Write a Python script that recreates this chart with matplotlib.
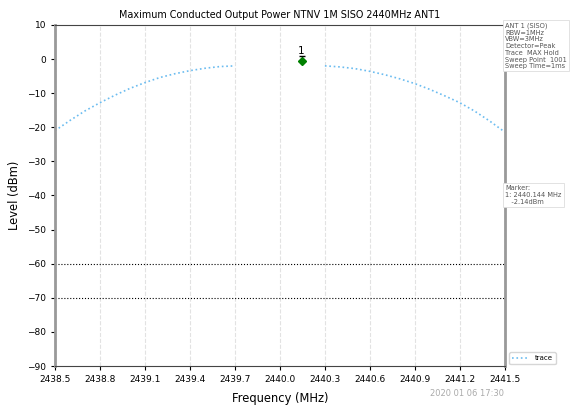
import matplotlib
matplotlib.use("Agg")
import matplotlib.pyplot as plt
import numpy as np

# trace values (MHz, dBm)
freq_left = [2438.5, 2438.6, 2438.7, 2438.8, 2438.9, 2439.0, 2439.1,
             2439.2, 2439.3, 2439.4, 2439.5, 2439.6, 2439.7]
level_left = [-21.0, -18.0, -15.2, -12.8, -10.6, -8.6, -6.9,
              -5.4, -4.3, -3.4, -2.7, -2.2, -2.0]
freq_right = [2440.3, 2440.4, 2440.5, 2440.6, 2440.7, 2440.8, 2440.9,
              2441.0, 2441.1, 2441.2, 2441.3, 2441.4, 2441.5]
level_right = [-2.0, -2.3, -2.8, -3.6, -4.6, -5.8, -7.2,
               -8.9, -10.8, -12.8, -15.3, -18.2, -21.4]

marker_freq = 2440.144
marker_level = -0.7
limit_lines = [-60, -70]

xticks = [2438.5, 2438.8, 2439.1, 2439.4, 2439.7, 2440.0, 2440.3,
          2440.6, 2440.9, 2441.2, 2441.5]
yticks = [10, 0, -10, -20, -30, -40, -50, -60, -70, -80, -90]

fig = plt.figure(figsize=(5.73, 4.07), dpi=100)
ax = fig.add_axes([0.096, 0.1007, 0.785, 0.838])

trace_color = "#6bbcf0"
ax.plot(freq_left + [np.nan] + freq_right, level_left + [np.nan] + level_right,
        linestyle=":", color=trace_color, linewidth=1.2, label="trace")

for lv in limit_lines:
    ax.axhline(lv, color="black", linestyle=":", linewidth=0.8)

ax.plot([marker_freq], [marker_level], marker="D", color="green", markersize=4)
ax.plot([marker_freq], [0.9], marker="_", color="black", markersize=5)
ax.text(marker_freq, 1.0, "1", ha="center", va="bottom", fontsize=7.5)

ax.set_xlim(2438.5, 2441.5)
ax.set_ylim(-90, 10)
ax.set_xticks(xticks)
ax.set_xticklabels([f"{t:.1f}" for t in xticks])
ax.set_yticks(yticks)
ax.tick_params(labelsize=6.5, length=3)
ax.grid(axis="x", color="#e2e2e2", linestyle="--", linewidth=0.8)

for side in ["left", "right"]:
    ax.spines[side].set_color("#999999")
    ax.spines[side].set_linewidth(2)
ax.spines["top"].set_color("#444444")
ax.spines["bottom"].set_color("#444444")

ax.set_title("Maximum Conducted Output Power NTNV 1M SISO 2440MHz ANT1",
             fontsize=6.9, pad=5)
ax.set_xlabel("Frequency (MHz)", fontsize=8.3, labelpad=6)
ax.set_ylabel("Level (dBm)", fontsize=8.3)

box = dict(boxstyle="square,pad=0.3", facecolor="white", edgecolor="#dddddd",
           linewidth=0.6)
fig.text(0.882, 0.945, "ANT 1 (SISO)\nRBW=1MHz\nVBW=3MHz\nDetector=Peak\n"
         "Trace  MAX Hold\nSweep Point  1001\nSweep Time=1ms",
         fontsize=4.8, va="top", ha="left", color="#555555", bbox=box,
         linespacing=1.15)
fig.text(0.882, 0.545, "Marker:\n1: 2440.144 MHz\n   -2.14dBm",
         fontsize=4.8, va="top", ha="left", color="#555555", bbox=box,
         linespacing=1.15)

ax.legend(loc="lower left", bbox_to_anchor=(1.005, 0.0), fontsize=5,
          frameon=True, handlelength=2.5, borderaxespad=0.3)

fig.text(0.88, 0.022, "2020 01 06 17:30", fontsize=6, color="#aaaaaa",
         ha="right", va="bottom")

fig.savefig("out.png", dpi=100)
